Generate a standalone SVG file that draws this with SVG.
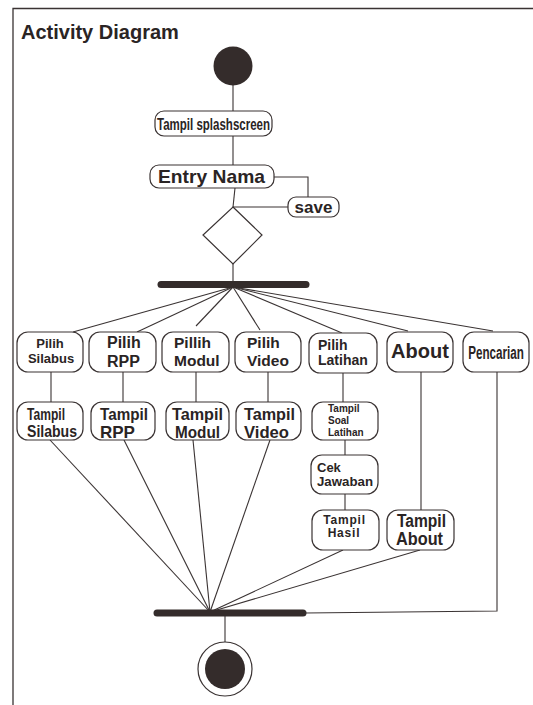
<svg xmlns="http://www.w3.org/2000/svg" width="533" height="705" viewBox="0 0 533 705">
<style>
.box{fill:#fff;stroke:#3a3333;stroke-width:1.2}
.ln{stroke:#3a3333;stroke-width:1.1;fill:none}
.bar{stroke:#342c2b;stroke-width:7;stroke-linecap:round}
.t{font-family:"Liberation Sans",Arial,sans-serif;font-weight:bold;fill:#2a2424}
.n{font-family:"Liberation Sans",Arial,sans-serif;fill:#2a2424}
.dot{fill:#342c2b}
</style>
<rect width="533" height="705" fill="#fff"/>
<path d="M13,705 V8.5 H533" fill="none" stroke="#3a3333" stroke-width="1.3"/>
<text class="t" x="21" y="39" font-size="20">Activity Diagram</text>

<g id="connectors">
<line class="ln" x1="233" y1="84" x2="233" y2="111"/>
<line class="ln" x1="233" y1="136" x2="233" y2="165"/>
<polyline class="ln" points="274,177 308,177 308,197"/>
<line class="ln" x1="235" y1="188" x2="233" y2="207"/>
<line class="ln" x1="233" y1="207" x2="288" y2="207"/>
<line class="ln" x1="233" y1="264" x2="233" y2="284"/>
<line class="ln" x1="233" y1="287" x2="73" y2="332"/>
<line class="ln" x1="233" y1="287" x2="137" y2="332"/>
<line class="ln" x1="233" y1="287" x2="196" y2="326"/>
<line class="ln" x1="233" y1="287" x2="260" y2="330"/>
<line class="ln" x1="233" y1="287" x2="342" y2="333"/>
<line class="ln" x1="233" y1="287" x2="408" y2="331"/>
<line class="ln" x1="233" y1="287" x2="493" y2="331"/>
<line class="ln" x1="51" y1="372" x2="51" y2="402"/>
<line class="ln" x1="123" y1="372" x2="123" y2="402"/>
<line class="ln" x1="196" y1="372" x2="196" y2="402"/>
<line class="ln" x1="268" y1="372" x2="268" y2="402"/>
<line class="ln" x1="343" y1="373" x2="343" y2="402"/>
<line class="ln" x1="345" y1="440" x2="345" y2="455"/>
<line class="ln" x1="345" y1="494" x2="345" y2="510"/>
<line class="ln" x1="421" y1="372" x2="421" y2="510"/>
<polyline class="ln" points="497,372 497,611 305,613"/>
<line class="ln" x1="50" y1="440" x2="210" y2="612"/>
<line class="ln" x1="124" y1="440" x2="210" y2="612"/>
<line class="ln" x1="193" y1="440" x2="210" y2="612"/>
<line class="ln" x1="270" y1="440" x2="210" y2="612"/>
<line class="ln" x1="343" y1="550" x2="210" y2="612"/>
<line class="ln" x1="420" y1="550" x2="210" y2="612"/>
<line class="ln" x1="225" y1="613" x2="225" y2="642"/>
</g>

<g id="start"><circle class="dot" cx="233" cy="66" r="19.5"/></g>

<g id="splash">
<rect class="box" x="155" y="111" width="117" height="25" rx="9"/>
<text class="t" transform="translate(213.5,130) scale(0.72,1)" font-size="16" text-anchor="middle">Tampil splashscreen</text>
</g>

<g id="entry">
<rect class="box" x="150" y="165" width="124" height="23" rx="9"/>
<text class="t" x="211.5" y="183" font-size="19" text-anchor="middle" textLength="107" lengthAdjust="spacingAndGlyphs">Entry Nama</text>
</g>

<g id="save">
<rect class="box" x="288" y="197" width="51" height="20" rx="8"/>
<text class="t" x="313.5" y="212.5" font-size="17" text-anchor="middle">save</text>
</g>

<g id="decision"><polygon class="box" points="233,207 262,235 233,264 203,235"/></g>

<g id="fork"><line class="bar" x1="161" y1="284.5" x2="306" y2="284.5"/></g>

<g id="pilih-silabus">
<rect class="box" x="17" y="332" width="66" height="40" rx="11"/>
<text class="t" font-size="13" text-anchor="middle"><tspan x="50" y="348">Pilih</tspan><tspan x="51" y="363">Silabus</tspan></text>
</g>
<g id="pilih-rpp">
<rect class="box" x="89" y="332" width="67" height="40" rx="11"/>
<text class="t" font-size="16"><tspan x="107" y="348">Pilih</tspan><tspan x="107" y="367">RPP</tspan></text>
</g>
<g id="pilih-modul">
<rect class="box" x="162" y="332" width="67" height="40" rx="11"/>
<text class="t" font-size="15.5"><tspan x="174" y="348">Pillih</tspan><tspan x="174" y="366">Modul</tspan></text>
</g>
<g id="pilih-video">
<rect class="box" x="235" y="332" width="66" height="40" rx="11"/>
<text class="t" font-size="15.5"><tspan x="247" y="348">Pilih</tspan><tspan x="247" y="366">Video</tspan></text>
</g>
<g id="pilih-latihan">
<rect class="box" x="309" y="333" width="68" height="40" rx="11"/>
<text class="t" font-size="14"><tspan x="318" y="350">Pilih</tspan><tspan x="318" y="365">Latihan</tspan></text>
</g>
<g id="about">
<rect class="box" x="387" y="332" width="66" height="40" rx="11"/>
<text class="t" x="420" y="358" font-size="20" text-anchor="middle">About</text>
</g>
<g id="pencarian">
<rect class="box" x="463" y="332" width="66" height="40" rx="11"/>
<text class="t" transform="translate(496,358.5) scale(0.63,1)" font-size="18.5" text-anchor="middle">Pencarian</text>
</g>

<g id="tampil-silabus">
<rect class="box" x="17" y="402" width="66" height="38" rx="11"/>
<text class="t" font-size="16"><tspan x="27" y="420" textLength="38" lengthAdjust="spacingAndGlyphs">Tampil</tspan><tspan x="27" y="437" textLength="50" lengthAdjust="spacingAndGlyphs">Silabus</tspan></text>
</g>
<g id="tampil-rpp">
<rect class="box" x="91" y="402" width="64" height="38" rx="11"/>
<text class="t" font-size="17"><tspan x="100" y="420" textLength="48" lengthAdjust="spacingAndGlyphs">Tampil</tspan><tspan x="100" y="438">RPP</tspan></text>
</g>
<g id="tampil-modul">
<rect class="box" x="166" y="402" width="63" height="38" rx="11"/>
<text class="t" font-size="17"><tspan x="172" y="420" textLength="51" lengthAdjust="spacingAndGlyphs">Tampil</tspan><tspan x="175" y="438" textLength="45" lengthAdjust="spacingAndGlyphs">Modul</tspan></text>
</g>
<g id="tampil-video">
<rect class="box" x="236" y="402" width="65" height="38" rx="11"/>
<text class="t" font-size="17"><tspan x="244" y="420" textLength="51" lengthAdjust="spacingAndGlyphs">Tampil</tspan><tspan x="244" y="438" textLength="45" lengthAdjust="spacingAndGlyphs">Video</tspan></text>
</g>
<g id="tampil-soal-latihan">
<rect class="box" x="312" y="402" width="66" height="38" rx="11"/>
<text class="t" font-size="10"><tspan x="328" y="412">Tampil</tspan><tspan x="328" y="424">Soal</tspan><tspan x="328" y="436">Latihan</tspan></text>
</g>
<g id="cek-jawaban">
<rect class="box" x="311" y="455" width="67" height="39" rx="11"/>
<text class="t" font-size="13"><tspan x="317" y="472">Cek</tspan><tspan x="317" y="486" textLength="56" lengthAdjust="spacingAndGlyphs">Jawaban</tspan></text>
</g>
<g id="tampil-hasil">
<rect class="box" x="312" y="510" width="67" height="40" rx="11"/>
<text class="t" font-size="12" text-anchor="middle"><tspan x="344.5" y="524" letter-spacing="0.8">Tampil</tspan><tspan x="344" y="537" letter-spacing="0.8">Hasil</tspan></text>
</g>
<g id="tampil-about">
<rect class="box" x="387" y="510" width="67" height="40" rx="11"/>
<text class="n" font-size="18" font-weight="600"><tspan x="397" y="527" textLength="49" lengthAdjust="spacingAndGlyphs">Tampil</tspan><tspan x="396" y="545" textLength="47" lengthAdjust="spacingAndGlyphs">About</tspan></text>
</g>

<g id="join"><line class="bar" x1="157" y1="613" x2="303" y2="613"/></g>

<g id="end">
<circle cx="225" cy="669" r="27" fill="#fff" stroke="#3a3333" stroke-width="1.2"/>
<circle class="dot" cx="225" cy="669" r="20"/>
</g>
</svg>
